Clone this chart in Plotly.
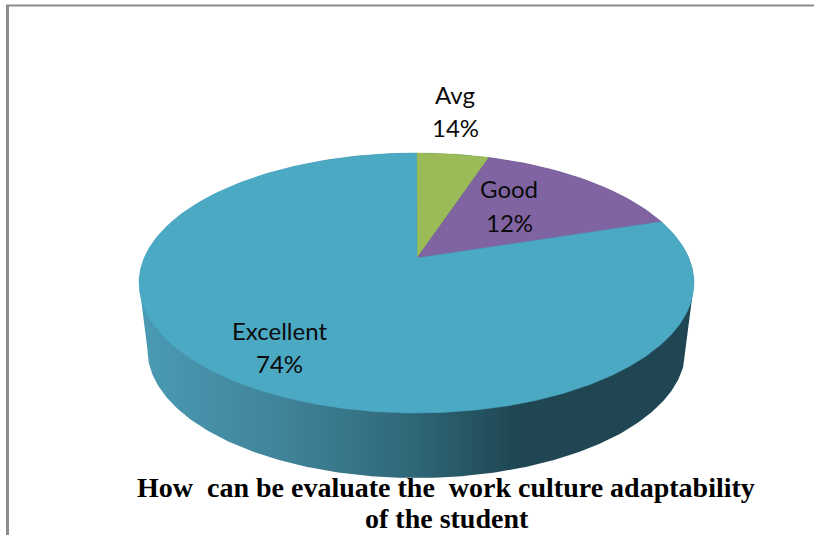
import numpy as np
import plotly.graph_objects as go

# Data
categories = ["Avg", "Good", "Excellent"]
printed_percent = [14, 12, 74]          # the numbers printed on the labels
drawn_share = [4.2, 13.0, 82.8]         # the slice sizes as actually drawn (3-D tilted)
slice_colors = ["#9BBB59", "#8064A2", "#4BA9C4"]
title_lines = ["How\u00a0\u00a0can be evaluate the\u00a0\u00a0work culture adaptability", "of the student"]

# Canvas geometry (pixel coordinate axes)
W, H = 814, 535
CX, CY, RX, RY = 416.5, 283.0, 277.5, 130.0   # top face
APEX = (417.0, 258.0)                         # perspective centre of slices
BCX, BCY, BRX, BRY = 416.5, 350.0, 269.0, 128.0  # bottom rim

def top(theta):
    return CX + RX * np.sin(theta), CY - RY * np.cos(theta)

fig = go.Figure()

# Side wall: left end of top face, lower rim, right end of top face
t = np.linspace(np.pi * 0.5, np.pi * 1.5, 241)
bx = BCX + BRX * np.sin(t)
by = BCY - BRY * np.cos(t)
tx, ty = top(np.linspace(-np.pi / 2, np.pi / 2, 181))
wall_x = np.concatenate([tx, bx])
wall_y = np.concatenate([ty, by])
fig.add_trace(go.Scatter(
    x=wall_x, y=wall_y, mode="lines", fill="toself", line=dict(width=0, color="rgba(0,0,0,0)"),
    fillgradient=dict(type="horizontal", colorscale=[
        [0.0, "#4A9BB5"], [0.28, "#3F8197"], [0.5, "#2E6676"], [0.68, "#1F4652"], [1.0, "#1F4652"]]),
    hoverinfo="skip", showlegend=False))

# Top-face slices
edges = np.cumsum([0] + drawn_share) / sum(drawn_share) * 2 * np.pi
for i, c in enumerate(categories):
    th = np.linspace(edges[i], edges[i + 1], max(8, int((edges[i + 1] - edges[i]) * 80)))
    ex, ey = top(th)
    fig.add_trace(go.Scatter(
        x=np.r_[APEX[0], ex, APEX[0]], y=np.r_[APEX[1], ey, APEX[1]],
        mode="lines", fill="toself", fillcolor=slice_colors[i],
        line=dict(width=0.5, color=slice_colors[i]), name=c, hoverinfo="name", showlegend=False))

# Slice labels (name line and percent line)
label_pos = {"Avg": (455, 94.5, 127.5), "Good": (509, 188, 222), "Excellent": (279, 330, 363)}
for c, p in zip(categories, printed_percent):
    x, y1, y2 = label_pos[c]
    for text, y in ((c, y1), (f"{p}%", y2)):
        fig.add_annotation(x=x, y=y, text=text, showarrow=False, xanchor="center", yanchor="middle",
                           font=dict(family="Lato, Carlito, sans-serif", size=24, color="#0b0b0b"))

# Title
for line, x, y in zip(title_lines, (446, 447), (487, 518)):
    fig.add_annotation(x=x, y=y, text=f"<b>{line}</b>", showarrow=False, xanchor="center", yanchor="middle",
                       font=dict(family="Liberation Serif, serif", size=28, color="#000000"))

# Frame lines at the left and top of the picture
fig.add_shape(type="line", x0=7.5, x1=7.5, y0=5, y1=H, line=dict(color="#8C8C8C", width=3))
fig.add_shape(type="line", x0=6, x1=W, y0=5.5, y1=5.5, line=dict(color="#8C8C8C", width=2))

fig.update_layout(
    width=W, height=H, margin=dict(l=0, r=0, t=0, b=0),
    paper_bgcolor="white", plot_bgcolor="white",
    xaxis=dict(range=[0, W], visible=False, fixedrange=True),
    yaxis=dict(range=[H, 0], visible=False, fixedrange=True),
)
fig.write_html("out.html", config={"displayModeBar": False},
               post_script="document.body.style.margin='0';")
